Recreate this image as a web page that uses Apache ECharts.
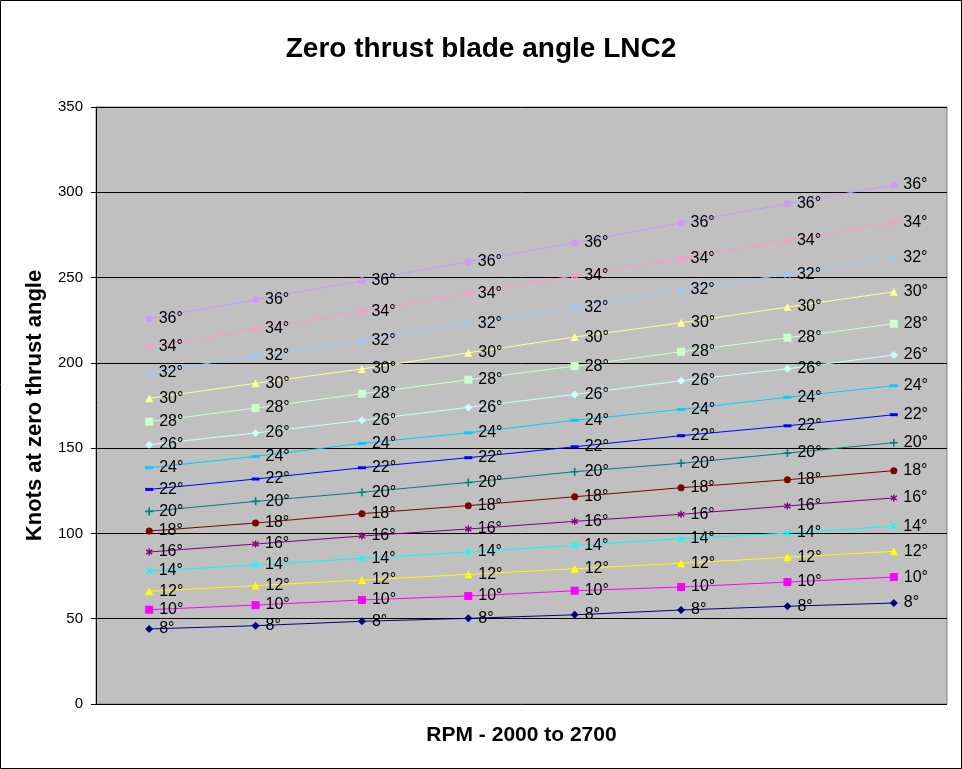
<!DOCTYPE html>
<html>
<head>
<meta charset="utf-8">
<script src="https://cdn.jsdelivr.net/npm/echarts@6/dist/echarts.min.js"></script>
<style>
html,body{margin:0;padding:0;background:#fff;}
#main{width:962px;height:769px;}
</style>
</head>
<body>
<div id="main"></div>
<script>
var categories = ['2000','2100','2200','2300','2400','2500','2600','2700'];
var yTicks = [0, 50, 100, 150, 200, 250, 300, 350];
var angleNames = ['8°','10°','12°','14°','16°','18°','20°','22°','24°','26°','28°','30°','32°','34°','36°'];

var s8  = [44.0, 45.9, 48.5, 50.2, 52.3, 55.1, 57.3, 59.2];
var s10 = [55.3, 58.0, 61.0, 63.3, 66.4, 68.6, 71.5, 74.4];
var s12 = [66.1, 69.4, 72.7, 76.0, 79.3, 82.5, 86.0, 89.5];
var s14 = [78.0, 81.5, 85.4, 89.1, 93.0, 96.9, 100.2, 104.3];
var s16 = [89.1, 93.8, 98.5, 102.6, 107.1, 111.2, 116.1, 120.8];
var s18 = [101.4, 106.1, 111.6, 116.3, 121.5, 126.8, 131.5, 136.8];
var s20 = [112.9, 118.8, 124.1, 129.9, 136.2, 141.1, 147.1, 153.2];
var s22 = [125.8, 131.9, 138.5, 144.4, 150.8, 157.3, 163.1, 169.6];
var s24 = [138.5, 145.2, 152.8, 159.0, 166.3, 172.7, 179.8, 186.6];
var s26 = [152.0, 158.9, 166.3, 173.9, 181.5, 189.5, 196.5, 204.6];
var s28 = [165.5, 173.5, 181.9, 190.1, 198.1, 206.5, 214.7, 222.9];
var s30 = [179.2, 188.0, 196.4, 205.9, 215.1, 223.5, 232.7, 241.7];
var s32 = [194.2, 204.2, 213.2, 223.1, 232.5, 242.7, 251.9, 261.8];
var s34 = [209.4, 219.8, 230.2, 240.7, 251.1, 261.2, 271.8, 282.3];
var s36 = [225.9, 237.0, 248.1, 259.3, 270.4, 282.1, 293.3, 304.4];

var seriesValues = [s8, s10, s12, s14, s16, s18, s20, s22, s24, s26, s28, s30, s32, s34, s36];

var colors = ['#000080','#FF00FF','#FFFF00','#00FFFF','#800080','#800000','#008080','#0000FF','#00CCFF','#CCFFFF','#CCFFCC','#FFFF99','#99CCFF','#FF99CC','#CC99FF'];

var X_PATH = 'path://M0,0L2,0L5,3L8,0L10,0L6,5L10,10L8,10L5,7L2,10L0,10L4,5Z';
var STAR_PATH = 'path://M4,0L6,0L6,3.3L8.6,1.2L9.8,2.6L7,5L9.8,7.4L8.6,8.8L6,6.7L6,10L4,10L4,6.7L1.4,8.8L0.2,7.4L3,5L0.2,2.6L1.4,1.2L4,3.3Z';
var PLUS_PATH = 'path://M4,0L6,0L6,4L10,4L10,6L6,6L6,10L4,10L4,6L0,6L0,4L4,4Z';
var DASH_PATH = 'path://M0,0L10,0L10,3L0,3Z';

var symbols = ['diamond','rect','triangle',X_PATH,STAR_PATH,'circle',PLUS_PATH,DASH_PATH,DASH_PATH,'diamond','rect','triangle',X_PATH,STAR_PATH,'circle'];
var sizes = [8,8,8,7,7,7,8,[8,3],[8,3],8,8,8,7,7,7];

var FONT = "'Liberation Sans', Arial, sans-serif";

var series = seriesValues.map(function (vals, i) {
  return {
    name: angleNames[i],
    type: 'line',
    data: vals,
    symbol: symbols[i],
    symbolSize: sizes[i],
    showAllSymbol: true,
    lineStyle: { color: colors[i], width: 1 },
    itemStyle: { color: colors[i] },
    label: {
      show: true,
      position: 'right',
      distance: 6,
      formatter: angleNames[i],
      color: '#000',
      fontSize: 16,
      fontFamily: FONT
    },
    emphasis: { disabled: true },
    animation: false,
    z: 2 + i
  };
});

var chart = echarts.init(document.getElementById('main'), null, { renderer: 'canvas' });
chart.setOption({
  backgroundColor: '#ffffff',
  animation: false,
  title: {
    text: 'Zero thrust blade angle LNC2',
    left: 'center',
    top: 30,
    textStyle: { fontSize: 28, fontWeight: 'bold', color: '#000', fontFamily: FONT }
  },
  grid: {
    left: 96, right: 15, top: 107, bottom: 65,
    show: true,
    backgroundColor: '#C0C0C0',
    borderColor: '#808080',
    borderWidth: 1
  },
  xAxis: {
    type: 'category',
    data: categories,
    boundaryGap: true,
    name: 'RPM - 2000 to 2700',
    nameLocation: 'middle',
    nameGap: 21,
    nameTextStyle: { fontSize: 21, fontWeight: 'bold', color: '#000', fontFamily: FONT },
    axisLine: { show: false },
    axisTick: { show: false },
    axisLabel: { show: false },
    splitLine: { show: false }
  },
  yAxis: {
    type: 'value',
    min: yTicks[0],
    max: yTicks[yTicks.length - 1],
    interval: 50,
    name: 'Knots at zero thrust angle',
    nameLocation: 'middle',
    nameGap: 50,
    nameRotate: 90,
    nameTextStyle: { fontSize: 22, fontWeight: 'bold', color: '#000', fontFamily: FONT },
    axisLine: { show: true, lineStyle: { color: '#000', width: 1 } },
    axisTick: { show: true, inside: false, length: 5, lineStyle: { color: '#000' } },
    axisLabel: { fontSize: 15, color: '#000', margin: 13, fontFamily: FONT },
    splitLine: { show: true, lineStyle: { color: '#000', width: 1 } }
  },
  graphic: [{
    type: 'rect',
    shape: { x: 0.5, y: 0.5, width: 961, height: 768 },
    style: { fill: null, stroke: '#000', lineWidth: 1 },
    silent: true,
    z: 100
  }],
  series: series
});
</script>
</body>
</html>
